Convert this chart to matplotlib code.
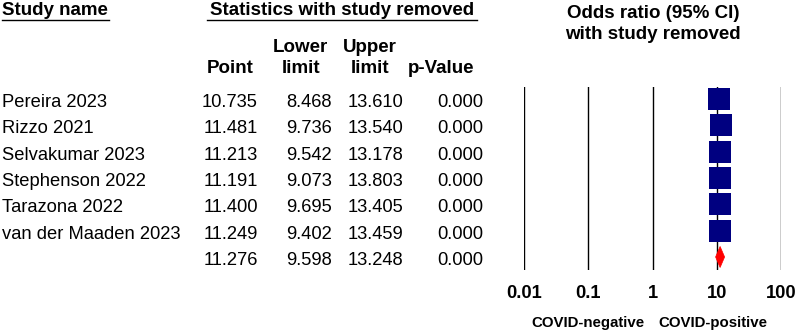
import matplotlib
matplotlib.use("Agg")
import matplotlib.pyplot as plt
from matplotlib.patches import Polygon
import numpy as np

plt.rcParams['font.family'] = ['Liberation Sans', 'DejaVu Sans']

studies = ["Pereira 2023", "Rizzo 2021", "Selvakumar 2023", "Stephenson 2022",
           "Tarazona 2022", "van der Maaden 2023"]
point = [10.735, 11.481, 11.213, 11.191, 11.400, 11.249]
lower = [8.468, 9.736, 9.542, 9.073, 9.695, 9.402]
upper = [13.610, 13.540, 13.178, 13.803, 13.405, 13.459]
pval = [0.000, 0.000, 0.000, 0.000, 0.000, 0.000]
pooled_point = 11.276
pooled_lower = 9.598
pooled_upper = 13.248
pooled_p = 0.000
tick_values = [0.01, 0.1, 1, 10, 100]
tick_labels = ["0.01", "0.1", "1", "10", "100"]

W, H = 797, 336
fig = plt.figure(figsize=(W / 100, H / 100), dpi=100)
bg = fig.add_axes([0, 0, 1, 1])
bg.set_xlim(0, W)
bg.set_ylim(H, 0)
bg.axis('off')

row0, dy = 99.0, 26.33
fs = 13.2
hfs = 13.5

# headers
bg.text(2, 15, "Study name", fontsize=hfs, fontweight='bold', ha='left', va='baseline')
bg.plot([2, 109], [20, 20], color='black', lw=1.0)
bg.text(342, 15, "Statistics with study removed", fontsize=hfs, fontweight='bold',
        ha='center', va='baseline')
bg.plot([207, 477], [20, 20], color='black', lw=1.0)
bg.text(300, 52, "Lower", fontsize=hfs, fontweight='bold', ha='center', va='baseline')
bg.text(370, 52, "Upper", fontsize=hfs, fontweight='bold', ha='center', va='baseline')
for x, s in [(230, "Point"), (301, "limit"), (370, "limit"), (441, "p-Value")]:
    bg.text(x, 73, s, fontsize=hfs, fontweight='bold', ha='center', va='baseline')
bg.text(653, 18, "Odds ratio (95% CI)", fontsize=hfs, fontweight='bold', ha='center', va='baseline')
bg.text(653, 39, "with study removed", fontsize=hfs, fontweight='bold', ha='center', va='baseline')

col_right = [258, 332, 403, 483]
names_all = studies + [""]
pts_all = point + [pooled_point]
lo_all = lower + [pooled_lower]
up_all = upper + [pooled_upper]
p_all = pval + [pooled_p]
for i in range(len(names_all)):
    yb = row0 + dy * i + 8
    bg.text(2, yb, names_all[i], fontsize=fs, ha='left', va='baseline')
    for xr, v in zip(col_right, [pts_all[i], lo_all[i], up_all[i], p_all[i]]):
        bg.text(xr, yb, f"{v:.3f}", fontsize=fs, ha='right', va='baseline')

# forest axes
left_px, right_px, top_px, bot_px = 524, 781, 87, 270
ax = fig.add_axes([left_px / W, (H - bot_px) / H, (right_px - left_px) / W, (bot_px - top_px) / H])
ax.set_xscale('log')
ax.set_xlim(0.01, 100)
ax.set_ylim((bot_px - row0) / dy, (top_px - row0) / dy)
for s in ax.spines.values():
    s.set_visible(False)
ax.patch.set_alpha(0)
ax.set_yticks([])
for tv in tick_values:
    ax.axvline(tv, color='black', lw=1.0, zorder=1)
ys = np.arange(len(studies))
ax.hlines(ys, lower, upper, color='black', lw=1.0, zorder=2)
ax.plot(point, ys, ls='none', marker='s', markersize=15.3, color='#000080',
        markeredgewidth=0, zorder=3)
yp = len(studies)
h = 0.4
diamond = Polygon([[pooled_lower, yp], [pooled_point, yp - h], [pooled_upper, yp],
                   [pooled_point, yp + h]], closed=True, facecolor='red',
                  edgecolor='red', lw=0.5, zorder=3)
ax.add_patch(diamond)
ax.set_xticks(tick_values)
ax.set_xticklabels(tick_labels, fontsize=13.2, fontweight='bold')
ax.xaxis.set_minor_locator(matplotlib.ticker.NullLocator())
ax.tick_params(axis='x', length=0, pad=11)

bg.text(587.5, 327, "COVID-negative", fontsize=10.8, fontweight='bold', ha='center', va='baseline')
bg.text(713, 327, "COVID-positive", fontsize=10.8, fontweight='bold', ha='center', va='baseline')

fig.savefig("out.png", dpi=100)
